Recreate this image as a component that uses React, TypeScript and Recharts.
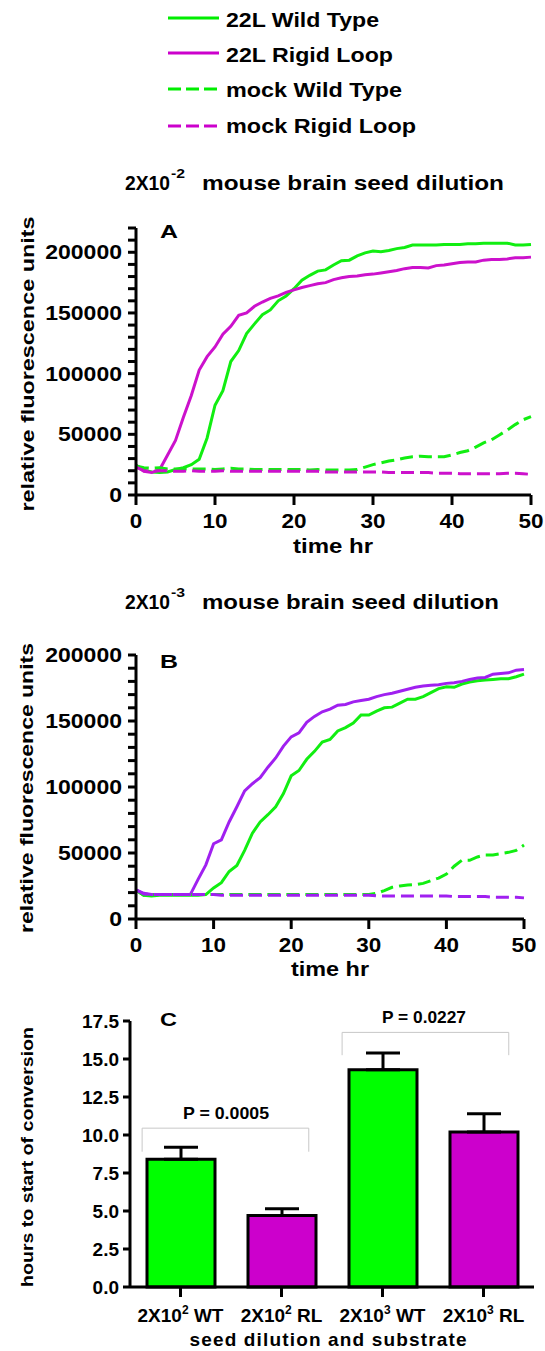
import React from 'react';
import { LineChart, Line, XAxis, YAxis, BarChart, Bar, Cell, ErrorBar, ReferenceLine } from 'recharts';

const FONT = '"Liberation Sans", Arial, Helvetica, sans-serif';
const GREEN = '#11ee11';
const MAGENTA = '#cc11cc';
const VIOLET = '#a020f0';

// ---------- Panel A & B: time axis (hours) ----------
const hours = [0, 1, 2, 3, 4, 5, 6, 7, 8, 9, 10, 11, 12, 13, 14, 15, 16, 17, 18, 19, 20, 21, 22, 23, 24, 25, 26, 27, 28, 29, 30, 31, 32, 33, 34, 35, 36, 37, 38, 39, 40, 41, 42, 43, 44, 45, 46, 47, 48, 49, 50];

// Panel A (2X10^-2 dilution)
const aWild22L = [24500, 20500, 19000, 18500, 19000, 21000, 22500, 25000, 29500, 47000, 74000, 86000, 110000, 119000, 133000, 141000, 148500, 152500, 160000, 164000, 170000, 177000, 181000, 184500, 185500, 189500, 193000, 193500, 197000, 199500, 201000, 200500, 201500, 203000, 204000, 206000, 206000, 206000, 206000, 206500, 206500, 206500, 207000, 207000, 207500, 207500, 207500, 207500, 206000, 206000, 206500];
const aRigid22L = [24500, 19500, 18500, 21000, 33000, 45000, 64000, 82000, 103000, 114000, 122000, 132500, 139000, 148000, 150000, 155500, 159000, 162000, 164000, 167000, 169000, 171000, 172500, 174000, 175000, 177500, 179000, 180000, 180500, 181500, 182000, 183000, 184000, 185000, 186500, 187500, 187500, 187000, 189000, 189500, 190500, 191500, 192000, 192000, 193500, 194000, 194000, 194500, 195500, 195500, 196000];
const aWildMock = [24000, 22500, 22000, 22500, 21500, 21500, 21500, 21500, 21500, 21500, 21000, 21500, 22000, 21500, 21500, 21000, 21000, 21000, 21000, 21000, 21000, 21000, 20500, 21000, 20500, 20500, 20500, 20500, 21000, 23000, 25000, 26500, 28000, 29000, 30500, 31500, 32000, 31500, 31500, 31500, 33000, 35000, 36500, 39500, 43000, 45500, 49500, 53500, 58000, 62000, 64500];
const aRigidMock = [23000, 20000, 19500, 20000, 20000, 19500, 19500, 20000, 19500, 19500, 19500, 20000, 19500, 19500, 19500, 19500, 19500, 19500, 19500, 19500, 19500, 19500, 19500, 19500, 19000, 19000, 19000, 19000, 19000, 19000, 19000, 19000, 18500, 18500, 18500, 18500, 18500, 18500, 18000, 18000, 18000, 17500, 17500, 17500, 17500, 17500, 17500, 18000, 18000, 17500, 17000];

// Panel B (2X10^-3 dilution)
const bWild22L = [22000, 18000, 17500, 18000, 18000, 18000, 18000, 18000, 18000, 18500, 23500, 27500, 36000, 40500, 52000, 65000, 73500, 79000, 85000, 95000, 108500, 112500, 121000, 127000, 134000, 136000, 142500, 145000, 148500, 154500, 154500, 157500, 160000, 160500, 163500, 166500, 166500, 168500, 171500, 174500, 176000, 175500, 178000, 179500, 180500, 181000, 181500, 182000, 182000, 183500, 185500];
const bRigid22L = [22000, 19500, 18500, 18500, 18500, 18500, 18500, 18500, 30000, 41000, 57000, 60000, 73500, 85000, 97000, 102500, 107000, 115000, 122000, 131000, 138000, 141000, 149000, 153500, 157000, 159000, 162000, 162500, 164500, 165500, 166500, 168500, 170000, 171000, 172500, 174000, 175500, 176500, 177000, 177500, 178500, 179000, 180000, 181500, 182500, 183000, 185500, 186000, 186500, 188500, 189000];
const bWildMock = [22000, 18000, 18000, 18500, 18500, 18500, 18500, 18500, 18500, 18500, 18500, 18500, 18500, 18500, 18500, 18500, 18500, 18500, 18500, 18500, 18500, 18500, 18500, 18500, 18500, 18500, 18500, 18500, 18500, 18500, 18500, 19500, 21500, 24000, 25000, 25700, 26000, 27000, 29000, 31000, 34000, 40000, 44500, 44500, 47000, 48500, 48500, 49500, 50500, 52000, 56000];
const bRigidMock = [22000, 19000, 18500, 18500, 18500, 18500, 18500, 18500, 18500, 18500, 18500, 18000, 18000, 18000, 18000, 18000, 18000, 18000, 18000, 18000, 18000, 18000, 18000, 18000, 18000, 18000, 18000, 18000, 18000, 18000, 18000, 17500, 17500, 17500, 17500, 17500, 17500, 17500, 17500, 17500, 17500, 17000, 17000, 17000, 17000, 17000, 16500, 16500, 16500, 16500, 16000];

const timeTicks = [0, 10, 20, 30, 40, 50];
const rfuTicksA = [0, 10000, 20000, 30000, 40000, 50000, 60000, 70000, 80000, 90000, 100000, 110000, 120000, 130000, 140000, 150000, 160000, 170000, 180000, 190000, 200000, 210000, 220000];
const rfuTicksB = [0, 10000, 20000, 30000, 40000, 50000, 60000, 70000, 80000, 90000, 100000, 110000, 120000, 130000, 140000, 150000, 160000, 170000, 180000, 190000, 200000];

// ---------- Panel C ----------
const cBase = ['2X10', '2X10', '2X10', '2X10'];
const cExp = ['2', '2', '3', '3'];
const cSuffix = ['WT', 'RL', 'WT', 'RL'];
const cPos = [0.5, 1.5, 2.5, 3.5];
const cHours = [8.4, 4.7, 14.3, 10.2];
const cSem = [0.8, 0.45, 1.1, 1.2];
const cColors = ['#00ff00', '#cc00cc', '#00ff00', '#cc00cc'];
const cTicks = [0, 2.5, 5, 7.5, 10, 12.5, 15, 17.5];
const pLabels = ['P = 0.0005', 'P = 0.0227'];
const bracketStart = [0.12, 2.1];
const bracketEnd = [1.77, 3.75];
const bracketTop = [10.45, 16.75];
const bracketFoot = [8.9, 15.25];

const rowsA = hours.map((t, i) => ({ t, wt: aWild22L[i], rl: aRigid22L[i], mwt: aWildMock[i], mrl: aRigidMock[i] }));
const rowsB = hours.map((t, i) => ({ t, wt: bWild22L[i], rl: bRigid22L[i], mwt: bWildMock[i], mrl: bRigidMock[i] }));
const rowsC = cHours.map((v, i) => ({ name: cBase[i] + cExp[i] + ' ' + cSuffix[i], pos: cPos[i], v, err: [0, cSem[i]] }));

const TimeTick = (p: any) => {
  const { x, y, payload } = p;
  const s = String(payload.value);
  return (
    <g>
      <line x1={x} x2={x} y1={y - 18} y2={y - 8} stroke="#000" strokeWidth={3} />
      <text x={x} y={y + 15} textAnchor="middle" fontFamily={FONT} fontWeight="bold" fontSize={20}
        textLength={s.length * 12.5} lengthAdjust="spacingAndGlyphs" fill="#000">{s}</text>
    </g>
  );
};

const RfuTick = (p: any) => {
  const { x, y, payload } = p;
  const v = payload.value;
  const s = String(v);
  const major = v % 50000 === 0;
  return (
    <g>
      <line x1={x + 6} x2={x + 14} y1={y} y2={y} stroke="#000" strokeWidth={3} />
      {major && (
        <text x={x} y={y + 7} textAnchor="end" fontFamily={FONT} fontWeight="bold" fontSize={20}
          textLength={s.length * 12.8} lengthAdjust="spacingAndGlyphs" fill="#000">{s}</text>
      )}
    </g>
  );
};

const HoursTick = (p: any) => {
  const { x, y, payload } = p;
  return (
    <g>
      <line x1={x + 4} x2={x + 11} y1={y} y2={y} stroke="#000" strokeWidth={3} />
      <text x={x} y={y + 7} textAnchor="end" fontFamily={FONT} fontWeight="bold" fontSize={19} fill="#000">
        {Number(payload.value).toFixed(1)}
      </text>
    </g>
  );
};

const GroupTick = (p: any) => {
  const { x, y, index } = p;
  return (
    <g>
      <line x1={x} x2={x} y1={y - 20} y2={y - 10} stroke="#000" strokeWidth={3} />
      <text x={x} y={y + 15} textAnchor="middle" fontFamily={FONT} fontWeight="bold" fontSize={19} fill="#000">
        {cBase[index]}
        <tspan dy={-8} fontSize={12}>{cExp[index]}</tspan>
        <tspan dy={8}>{' ' + cSuffix[index]}</tspan>
      </text>
    </g>
  );
};

const T = ({ x, y, len, size = 20, anchor = 'start', rotate = false, adjust = 'spacingAndGlyphs', children }: any) => (
  <text x={x} y={y} fontSize={size} fontFamily={FONT} fontWeight="bold" textAnchor={anchor} fill="#000"
    textLength={len} lengthAdjust={adjust} transform={rotate ? `rotate(-90 ${x} ${y})` : undefined}>
    {children}
  </text>
);

const legendItems = [
  { label: '22L Wild Type', color: '#00ee00', dash: undefined, y: 18, ty: 27, len: 153 },
  { label: '22L Rigid Loop', color: '#cc00cc', dash: undefined, y: 53, ty: 62, len: 167 },
  { label: 'mock Wild Type', color: '#00ee00', dash: '13 5', y: 89, ty: 97, len: 176 },
  { label: 'mock Rigid Loop', color: '#cc00cc', dash: '13 5', y: 126, ty: 133, len: 190 },
];

function TimeChart({ rows, domainMax, ticks, rlColor, top, height, margin }: any) {
  return (
    <div style={{ position: 'absolute', left: 0, top }}>
      <LineChart width={545} height={height} data={rows} margin={margin}>
        <XAxis dataKey="t" type="number" domain={[0, 50]} ticks={timeTicks} interval={0}
          height={30} tickSize={10} tickMargin={8} tickLine={false} tick={<TimeTick />}
          axisLine={{ stroke: '#000', strokeWidth: 3 }} />
        <YAxis type="number" domain={[0, domainMax]} ticks={ticks} interval={0} width={126}
          tickSize={8} tickMargin={6} tickLine={false} tick={<RfuTick />}
          axisLine={{ stroke: '#000', strokeWidth: 3 }} />
        <Line dataKey="wt" type="linear" stroke={GREEN} strokeWidth={3} dot={false} isAnimationActive={false} />
        <Line dataKey="rl" type="linear" stroke={rlColor} strokeWidth={3} dot={false} isAnimationActive={false} />
        <Line dataKey="mwt" type="linear" stroke={GREEN} strokeWidth={3} strokeDasharray="13 6" dot={false} isAnimationActive={false} />
        <Line dataKey="mrl" type="linear" stroke={rlColor} strokeWidth={3} strokeDasharray="13 6" dot={false} isAnimationActive={false} />
      </LineChart>
    </div>
  );
}

export default function App() {
  return (
    <div style={{ position: 'absolute', left: 0, top: 0, width: 545, height: 1351, background: '#fff', overflow: 'hidden' }}>
      <TimeChart rows={rowsA} domainMax={220000} ticks={rfuTicksA} rlColor={MAGENTA} top={200} height={360}
        margin={{ top: 28, right: 14, bottom: 35, left: 10 }} />
      <TimeChart rows={rowsB} domainMax={200000} ticks={rfuTicksB} rlColor={VIOLET} top={630} height={360}
        margin={{ top: 25, right: 21, bottom: 41, left: 10 }} />

      <div style={{ position: 'absolute', left: 0, top: 990 }}>
        <BarChart width={545} height={361} data={rowsC} margin={{ top: 31, right: 11, bottom: 34, left: 10 }}>
          <XAxis xAxisId="cat" dataKey="name" type="category" height={30} interval={0}
            tickSize={10} tickMargin={10} tickLine={false} tick={<GroupTick />}
            axisLine={{ stroke: '#000', strokeWidth: 3 }} />
          <XAxis xAxisId="num" dataKey="pos" type="number" domain={[0, 4]} allowDataOverflow hide />
          <YAxis type="number" domain={[0, 17.5]} ticks={cTicks} interval={0} width={120}
            tickSize={7} tickMargin={4} tickLine={false} tick={<HoursTick />}
            axisLine={{ stroke: '#000', strokeWidth: 3 }} />
          <Bar xAxisId="cat" dataKey="v" barSize={68} stroke="#000" strokeWidth={3} isAnimationActive={false}>
            {rowsC.map((r, i) => <Cell key={r.name} fill={cColors[i]} />)}
            <ErrorBar dataKey="err" direction="y" width={17} stroke="#000" strokeWidth={3} isAnimationActive={false} />
          </Bar>
          {bracketStart.map((s, i) => (
            <ReferenceLine key={'h' + i} xAxisId="num" ifOverflow="visible" stroke="#c8c8c8" strokeWidth={1}
              segment={[{ x: s, y: bracketTop[i] }, { x: bracketEnd[i], y: bracketTop[i] }]} />
          ))}
          {bracketStart.map((s, i) => (
            <ReferenceLine key={'l' + i} xAxisId="num" ifOverflow="visible" stroke="#c8c8c8" strokeWidth={1}
              segment={[{ x: s, y: bracketFoot[i] }, { x: s, y: bracketTop[i] }]} />
          ))}
          {bracketStart.map((s, i) => (
            <ReferenceLine key={'r' + i} xAxisId="num" ifOverflow="visible" stroke="#c8c8c8" strokeWidth={1}
              segment={[{ x: bracketEnd[i], y: bracketFoot[i] }, { x: bracketEnd[i], y: bracketTop[i] }]} />
          ))}
        </BarChart>
      </div>

      <svg width={545} height={1351} style={{ position: 'absolute', left: 0, top: 0, pointerEvents: 'none' }}>
        {legendItems.map((it) => (
          <g key={it.label}>
            <line x1={168} x2={219} y1={it.y} y2={it.y} stroke={it.color} strokeWidth={3} strokeDasharray={it.dash} />
            <T x={226} y={it.ty} len={it.len} size={21}>{it.label}</T>
          </g>
        ))}

        <T x={125} y={190} len={45}>2X10</T>
        <T x={171} y={178} len={14} size={13}>-2</T>
        <T x={202} y={190} len={302} size={21}>mouse brain seed dilution</T>
        <T x={160} y={238} len={18} size={19}>A</T>
        <T x={34} y={364} len={295} size={19} anchor="middle" rotate>relative fluorescence units</T>
        <T x={333} y={553} len={80} size={21} anchor="middle">time hr</T>

        <T x={125} y={609} len={45}>2X10</T>
        <T x={171} y={597} len={14} size={13}>-3</T>
        <T x={202} y={609} len={297} size={21}>mouse brain seed dilution</T>
        <T x={160} y={668} len={18} size={19}>B</T>
        <T x={33} y={788} len={290} size={19} anchor="middle" rotate>relative fluorescence units</T>
        <T x={330} y={976} len={78} size={21} anchor="middle">time hr</T>

        <T x={160} y={1026} len={17} size={19}>C</T>
        <T x={226} y={1119} len={86} size={17} anchor="middle">{pLabels[0]}</T>
        <T x={424} y={1023} len={84} size={17} anchor="middle">{pLabels[1]}</T>
        <T x={33} y={1157} len={260} size={17} anchor="middle" rotate>hours to start of conversion</T>
        <T x={328} y={1346} len={277} size={19} anchor="middle" adjust="spacing">seed dilution and substrate</T>
      </svg>
    </div>
  );
}
